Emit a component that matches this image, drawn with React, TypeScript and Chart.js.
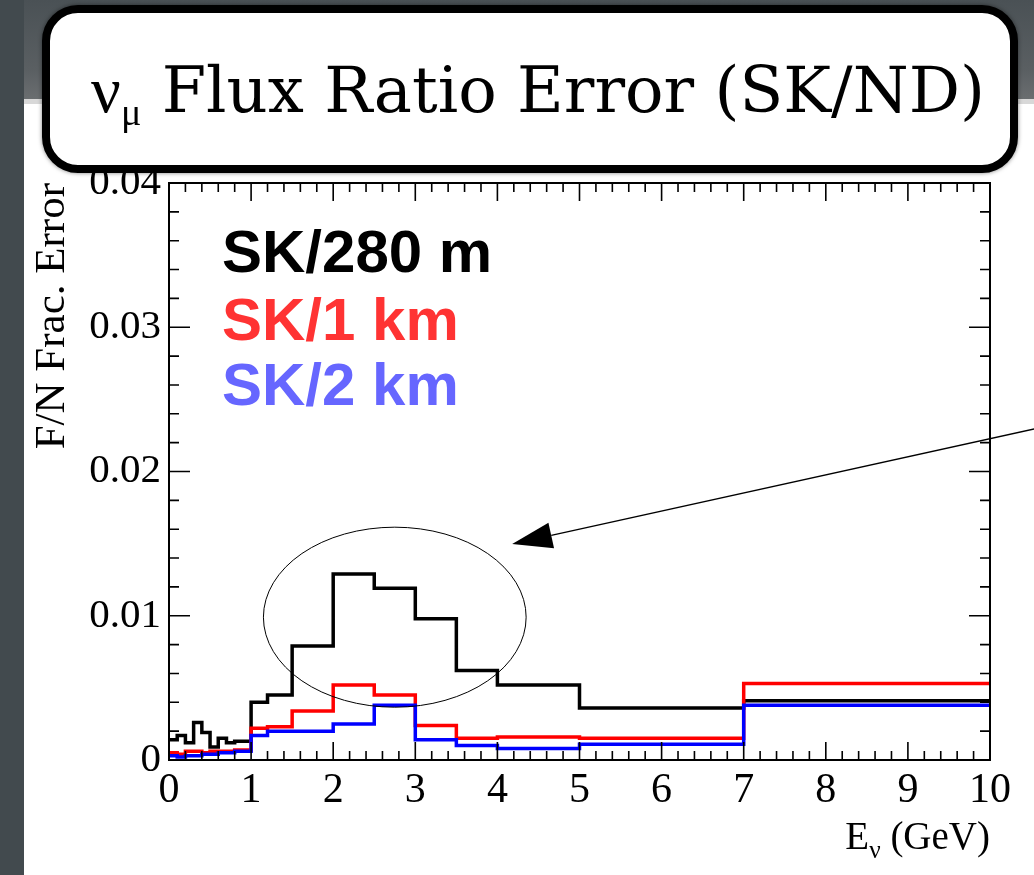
import React, { useEffect, useRef } from "react";
import { Chart, registerables } from "chart.js";

Chart.register(...registerables);

// ---- data ----
const binEdges = [0, 0.1, 0.2, 0.3, 0.4, 0.5, 0.6, 0.7, 0.8, 0.9, 1.0, 1.2, 1.5, 2.0, 2.5, 3.0, 3.5, 4.0, 5.0, 7.0, 10.0];
const sk280m = [0.0014, 0.0017, 0.0012, 0.0026, 0.0019, 0.0009, 0.0015, 0.0012, 0.0013, 0.0013, 0.0040, 0.0045, 0.0079, 0.0129, 0.0119, 0.0098, 0.0062, 0.0052, 0.0036, 0.0041];
const sk1km = [0.0005, 0.0004, 0.0006, 0.0006, 0.0005, 0.0006, 0.0006, 0.0006, 0.0007, 0.0007, 0.0022, 0.0023, 0.0034, 0.0052, 0.0045, 0.0024, 0.0015, 0.0016, 0.0015, 0.0053];
const sk2km = [0.0003, 0.0002, 0.0003, 0.0003, 0.0004, 0.0004, 0.0005, 0.0005, 0.0006, 0.0006, 0.0017, 0.0020, 0.0020, 0.0025, 0.0038, 0.0014, 0.0010, 0.0008, 0.0011, 0.0038];
const seriesLabels = ["SK/280 m", "SK/1 km", "SK/2 km"];
const xRange = [0, 10];
const yRange = [0, 0.04];
const titleMain = "Flux Ratio Error (SK/ND)";
const yAxisTitle = "F/N Frac. Error";

// annotation (in data coordinates)
const ellipseCenter = [2.75, 0.0099];
const ellipseRadii = [1.6, 0.00624];
const arrowTip = [4.18, 0.01497];
const arrowTail = [10.54, 0.02295];

const toPoints = (vals: number[]) =>
  binEdges.map((x, i) => ({ x, y: vals[Math.min(i, vals.length - 1)] }));

const decorPlugin = {
  id: "decor",
  afterDatasetsDraw(chart: any) {
    const { ctx, chartArea: a, scales } = chart;
    const x = scales.x;
    const y = scales.y;
    ctx.save();
    ctx.strokeStyle = "#000";
    ctx.lineWidth = 1.6;
    ctx.beginPath();
    for (let i = 0; i <= 50; i++) {
      const px = x.getPixelForValue(xRange[0] + i * 0.2);
      const len = i % 5 === 0 ? 18 : 9;
      ctx.moveTo(px, a.bottom);
      ctx.lineTo(px, a.bottom - len);
      ctx.moveTo(px, a.top);
      ctx.lineTo(px, a.top + len);
    }
    for (let i = 0; i <= 20; i++) {
      const py = y.getPixelForValue(yRange[0] + i * 0.002);
      const len = i % 5 === 0 ? 21 : 10;
      ctx.moveTo(a.left, py);
      ctx.lineTo(a.left + len, py);
      ctx.moveTo(a.right, py);
      ctx.lineTo(a.right - len, py);
    }
    ctx.stroke();
    ctx.lineWidth = 2;
    ctx.strokeRect(a.left, a.top, a.right - a.left, a.bottom - a.top);

    const cx = x.getPixelForValue(ellipseCenter[0]);
    const cy = y.getPixelForValue(ellipseCenter[1]);
    const rx = x.getPixelForValue(ellipseCenter[0] + ellipseRadii[0]) - cx;
    const ry = cy - y.getPixelForValue(ellipseCenter[1] + ellipseRadii[1]);
    ctx.lineWidth = 1;
    ctx.beginPath();
    ctx.ellipse(cx, cy, rx, ry, 0, 0, Math.PI * 2);
    ctx.stroke();

    const tx = x.getPixelForValue(arrowTip[0]);
    const ty = y.getPixelForValue(arrowTip[1]);
    const sx = x.getPixelForValue(arrowTail[0]);
    const sy = y.getPixelForValue(arrowTail[1]);
    const dx = sx - tx;
    const dy = sy - ty;
    const L = Math.hypot(dx, dy);
    const ux = dx / L;
    const uy = dy / L;
    const headLen = 40;
    const headHalf = 13;
    const bx = tx + ux * headLen;
    const by = ty + uy * headLen;
    ctx.lineWidth = 1.3;
    ctx.beginPath();
    ctx.moveTo(bx, by);
    ctx.lineTo(sx, sy);
    ctx.stroke();
    ctx.fillStyle = "#000";
    ctx.beginPath();
    ctx.moveTo(tx, ty);
    ctx.lineTo(bx - uy * headHalf, by + ux * headHalf);
    ctx.lineTo(bx + uy * headHalf, by - ux * headHalf);
    ctx.closePath();
    ctx.fill();
    ctx.restore();
  },
};

export default function App() {
  const canvasRef = useRef<HTMLCanvasElement | null>(null);

  useEffect(() => {
    if (!canvasRef.current) return;
    const lineStyle = {
      stepped: true as const,
      pointRadius: 0,
      borderWidth: 3.5,
      fill: false,
      tension: 0,
    };
    const chart = new Chart(canvasRef.current, {
      type: "line",
      data: {
        datasets: [
          { label: seriesLabels[0], data: toPoints(sk280m), borderColor: "#000000", order: 2, ...lineStyle },
          { label: seriesLabels[1], data: toPoints(sk1km), borderColor: "#ff0000", order: 1, ...lineStyle },
          { label: seriesLabels[2], data: toPoints(sk2km), borderColor: "#0000ff", order: 0, ...lineStyle },
        ],
      },
      options: {
        animation: false,
        responsive: false,
        layout: { padding: { left: 24, right: 44, top: 183, bottom: 0 } },
        plugins: { legend: { display: false }, tooltip: { enabled: false } },
        scales: {
          x: {
            type: "linear",
            min: xRange[0],
            max: xRange[1],
            afterFit: (s: any) => {
              s.height = 115;
            },
            grid: { display: false, drawTicks: false },
            border: { display: true, color: "#000", width: 2 },
            ticks: {
              stepSize: 1,
              padding: 6,
              color: "#000",
              autoSkip: false,
              maxRotation: 0,
              font: { family: "Liberation Serif", size: 42 },
            },
          },
          y: {
            type: "linear",
            min: yRange[0],
            max: yRange[1],
            afterFit: (s: any) => {
              s.width = 145;
            },
            grid: { display: false, drawTicks: false },
            border: { display: true, color: "#000", width: 2 },
            ticks: {
              stepSize: 0.01,
              padding: 8,
              color: "#000",
              autoSkip: false,
              font: { family: "Liberation Serif", size: 41 },
            },
            title: {
              display: true,
              text: yAxisTitle,
              align: "end",
              color: "#000",
              padding: { top: 3, bottom: 0 },
              font: { family: "Liberation Serif", size: 43 },
            },
          },
        },
      },
      plugins: [decorPlugin],
    } as any);
    return () => chart.destroy();
  }, []);

  const legendColors = ["#000000", "#ff3333", "#6666ff"];
  const legendTops = [222, 290, 355];

  return (
    <div
      style={{
        position: "absolute",
        left: 0,
        top: 0,
        width: 1034,
        height: 875,
        overflow: "hidden",
        background: "#424a4e",
      }}
    >
      <div
        style={{
          position: "absolute",
          left: 24,
          top: 0,
          right: 0,
          height: 99,
          background: "linear-gradient(to bottom, #4a5155 0%, #5a5f62 70%, #6a6e70 100%)",
        }}
      />
      <div
        style={{
          position: "absolute",
          left: 24,
          top: 99,
          right: 0,
          bottom: 0,
          background: "#ffffff",
          borderTop: "5px solid #d8d8d8",
        }}
      />
      <canvas
        ref={canvasRef}
        width={1034}
        height={875}
        style={{ position: "absolute", left: 0, top: 0, width: 1034, height: 875 }}
      />
      {seriesLabels.map((t, i) => (
        <div
          key={t}
          style={{
            position: "absolute",
            left: 222,
            top: legendTops[i],
            fontFamily: "'Liberation Sans', Arial, sans-serif",
            fontWeight: 700,
            fontSize: 60,
            lineHeight: "60px",
            color: legendColors[i],
            whiteSpace: "nowrap",
          }}
        >
          {t}
        </div>
      ))}
      <div
        style={{
          position: "absolute",
          right: 44,
          top: 816,
          fontFamily: "'Liberation Serif', serif",
          fontSize: 39,
          lineHeight: "39px",
          color: "#000",
          whiteSpace: "nowrap",
        }}
      >
        E<span style={{ fontSize: "0.65em", verticalAlign: "-0.35em", lineHeight: 0 }}>ν</span> (GeV)
      </div>
      <div
        style={{
          position: "absolute",
          left: 42,
          top: 5,
          width: 976,
          height: 168,
          boxSizing: "border-box",
          border: "8px solid #000",
          borderRadius: 36,
          background: "#ffffff",
          display: "flex",
          alignItems: "center",
          justifyContent: "center",
          fontFamily: "'DejaVu Serif', serif",
          fontSize: 64,
          color: "#000",
          whiteSpace: "nowrap",
          boxShadow: "0 0 4px rgba(0,0,0,0.5)",
        }}
      >
        <span style={{ paddingLeft: 16, position: "relative", top: 1 }}>
          <span style={{ fontFamily: "'Liberation Serif', serif", fontSize: 66 }}>ν</span>
          <span style={{ fontFamily: "'Liberation Serif', serif", fontSize: 38, verticalAlign: "-0.35em", lineHeight: 0 }}>μ</span>{" "}
          {titleMain}
        </span>
      </div>
    </div>
  );
}
